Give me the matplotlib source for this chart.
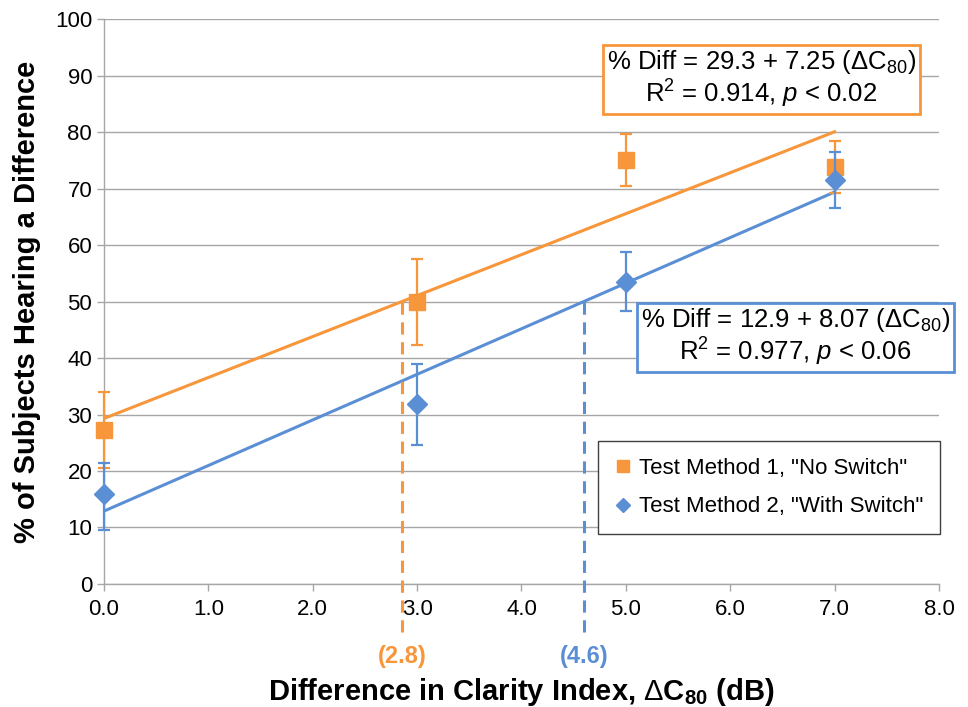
import numpy as np
import matplotlib
matplotlib.use("Agg")
import matplotlib.pyplot as plt
from matplotlib.lines import Line2D

plt.rcParams['font.family'] = ['Liberation Sans', 'DejaVu Sans']
plt.rcParams['mathtext.fontset'] = 'custom'
plt.rcParams['mathtext.rm'] = 'Liberation Sans'
plt.rcParams['mathtext.it'] = 'Liberation Sans:italic'
plt.rcParams['mathtext.bf'] = 'Liberation Sans:bold'

# data
dc80 = [0.0, 3.0, 5.0, 7.0]
m1_pct = [27.2, 50.0, 75.0, 73.8]
m1_lo = [20.5, 42.3, 70.4, 69.3]
m1_hi = [34.0, 57.6, 79.6, 78.5]
m2_pct = [16.0, 31.8, 53.5, 71.6]
m2_lo = [9.6, 24.6, 48.3, 66.5]
m2_hi = [21.4, 38.9, 58.8, 76.4]

# linear fits (from the chart)
m1_fit = (29.3, 7.25)
m2_fit = (12.9, 8.07)
m1_stats = ('0.914', '0.02')
m2_stats = ('0.977', '0.06')
target = 50.0
cross_labels = ['(2.8)', '(4.6)']

orange = '#F7963A'
blue = '#5B8FD5'
grid_c = '#A6A6A6'

fig = plt.figure(figsize=(9.68, 7.07), dpi=100)
ax = fig.add_axes([0.1074, 0.174, 0.8626, 0.799])

x = np.array(dc80)
y1 = np.array(m1_pct)
y2 = np.array(m2_pct)
err1 = [y1 - np.array(m1_lo), np.array(m1_hi) - y1]
err2 = [y2 - np.array(m2_lo), np.array(m2_hi) - y2]

# trendlines
xf = np.array([x.min(), x.max()])
ax.plot(xf, m1_fit[0] + m1_fit[1] * xf, color=orange, lw=2.2, zorder=3)
ax.plot(xf, m2_fit[0] + m2_fit[1] * xf, color=blue, lw=2.2, zorder=3)

e1 = ax.errorbar(x, y1, yerr=err1, fmt='s', color=orange, ms=11, elinewidth=1.6,
                 capsize=4, capthick=1.6, zorder=4)
e2 = ax.errorbar(x, y2, yerr=err2, fmt='D', color=blue, ms=10, elinewidth=1.6,
                 capsize=4, capthick=1.6, zorder=5)
for e in (e1, e2):
    for a in e.get_children():
        a.set_clip_on(False)

# dashed drop lines where each fit crosses 50 %
for (b, m), c, lab in zip([m1_fit, m2_fit], [orange, blue], cross_labels):
    xc = (target - b) / m
    ax.plot([xc, xc], [target, -9.0], color=c, lw=2.2, ls=(0, (4, 2.5)),
            clip_on=False, zorder=3)
    ax.text(xc, -12.9, lab, color=c, fontsize=17, fontweight='bold',
            ha='center', va='center', clip_on=False)

ax.set_xlim(0, 8)
ax.set_ylim(0, 100)
ax.set_xticks(np.arange(0, 8.1, 1.0))
ax.set_xticklabels([f'{v:.1f}' for v in np.arange(0, 8.1, 1.0)])
ax.set_yticks(np.arange(0, 101, 10))
ax.tick_params(axis='both', labelsize=16, color=grid_c, length=5, width=1)
ax.tick_params(axis='x', pad=6)
ax.grid(axis='y', color=grid_c, lw=1)
ax.set_axisbelow(True)
for s in ['top', 'right']:
    ax.spines[s].set_visible(False)
for s in ['left', 'bottom']:
    ax.spines[s].set_color(grid_c)
    ax.spines[s].set_linewidth(1)

ax.set_ylabel('% of Subjects Hearing a Difference', fontsize=21,
              fontweight='bold', labelpad=10)
ax.set_xlabel(r'Difference in Clarity Index, $\Delta$C$_{\mathbf{80}}$ (dB)',
              fontsize=21, fontweight='bold', labelpad=40)

for (b, m), (r2, p), c, (bx, by) in zip([m1_fit, m2_fit], [m1_stats, m2_stats],
                                         [orange, blue], [(0.787, 0.894), (0.828, 0.437)]):
    ax.text(bx, by,
            f'% Diff = {b} + {m} ($\\Delta$C$_{{80}}$)\nR$^2$ = {r2}, $p$ < {p}',
            transform=ax.transAxes, ha='center', va='center', fontsize=18.5,
            linespacing=1.05,
            bbox=dict(boxstyle='square,pad=0.15', fc='white', ec=c, lw=2))

handles = [Line2D([], [], ls='none', marker='s', color=orange, ms=9),
           Line2D([], [], ls='none', marker='D', color=blue, ms=7)]
leg = ax.legend(handles, ['Test Method 1, "No Switch"', 'Test Method 2, "With Switch"'],
                loc='upper left', bbox_to_anchor=(0.578, 0.273), fontsize=16,
                frameon=True, fancybox=False, handlelength=0.8,
                handletextpad=0.3, borderpad=0.75, labelspacing=0.8,
                edgecolor='#404040', framealpha=1)
leg.get_frame().set_linewidth(1)

fig.savefig('out.png', dpi=100)
